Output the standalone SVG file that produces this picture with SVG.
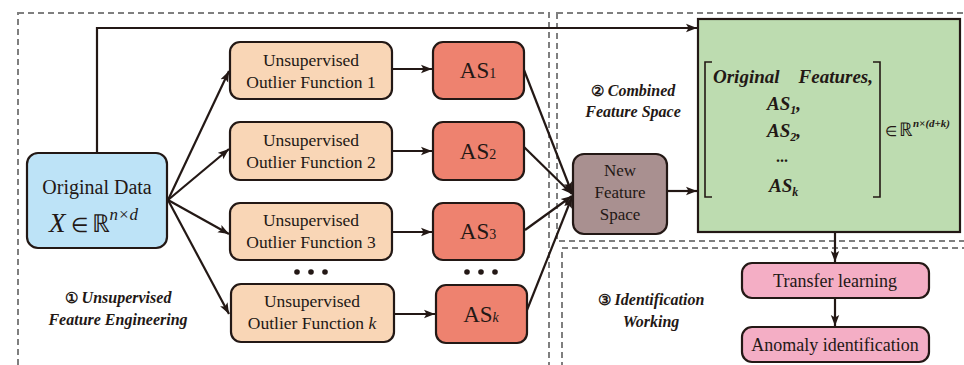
<svg xmlns="http://www.w3.org/2000/svg" width="964" height="365" viewBox="0 0 964 365">
<defs>
<marker id="ah" markerUnits="userSpaceOnUse" markerWidth="12" markerHeight="10" refX="11" refY="5" orient="auto">
<path d="M0,0.8 L11,5 L0,9.2 L2.5,5 z" fill="#231815"/>
</marker>
</defs>

<g id="regions" fill="none" stroke="#7f7f7f" stroke-width="2" stroke-dasharray="6,4">
<rect x="18" y="13" width="531" height="370"/>
<rect x="557" y="13" width="420" height="228"/>
<rect x="562" y="248" width="420" height="130"/>
</g>

<g id="connectors" stroke="#231815" stroke-width="2.2" fill="none" marker-end="url(#ah)">
<polyline points="97,153 97,28 697,28"/>
<line x1="168" y1="200" x2="229" y2="71"/>
<line x1="168" y1="200" x2="229" y2="149"/>
<line x1="168" y1="200" x2="229" y2="234"/>
<line x1="168" y1="200" x2="229" y2="314"/>
<line x1="392" y1="69" x2="432" y2="69"/>
<line x1="392" y1="151" x2="432" y2="151"/>
<line x1="392" y1="232" x2="432" y2="232"/>
<line x1="394" y1="314" x2="435" y2="314"/>
<line x1="524" y1="70" x2="572" y2="193"/>
<line x1="524" y1="147" x2="572" y2="194"/>
<line x1="525" y1="230" x2="572" y2="196"/>
<line x1="527" y1="310" x2="572" y2="197"/>
<line x1="667" y1="191" x2="697" y2="191"/>
<line x1="835" y1="233" x2="835" y2="262"/>
<line x1="835" y1="298" x2="835" y2="326"/>
</g>

<g id="original-data">
<rect x="27" y="153" width="140" height="95" rx="11" fill="#bde3f7" stroke="#231815" stroke-width="2.2"/>
<text style="font-family:'Liberation Serif',serif !important" fill="#231815" x="97" y="194" font-size="20" text-anchor="middle">Original Data</text>
<text style="font-family:'Liberation Serif',serif !important" fill="#231815" x="49" y="232" font-size="27"><tspan font-style="italic">X</tspan><tspan dx="5" font-size="20">∈</tspan><tspan dx="4" font-size="25">ℝ</tspan><tspan font-style="italic" font-size="17" dy="-12">n×d</tspan></text>
</g>

<g id="uof1">
<rect x="230" y="42" width="162" height="57" rx="10" fill="#f9d6b6" stroke="#231815" stroke-width="2.2"/>
<text style="font-family:'Liberation Serif',serif !important" fill="#231815" x="311" y="66" font-size="17.5" text-anchor="middle">Unsupervised</text>
<text style="font-family:'Liberation Serif',serif !important" fill="#231815" x="311" y="88" font-size="17.5" text-anchor="middle">Outlier Function 1</text>
</g>
<g id="uof2">
<rect x="230" y="122" width="162" height="58" rx="10" fill="#f9d6b6" stroke="#231815" stroke-width="2.2"/>
<text style="font-family:'Liberation Serif',serif !important" fill="#231815" x="311" y="146" font-size="17.5" text-anchor="middle">Unsupervised</text>
<text style="font-family:'Liberation Serif',serif !important" fill="#231815" x="311" y="168" font-size="17.5" text-anchor="middle">Outlier Function 2</text>
</g>
<g id="uof3">
<rect x="230" y="203" width="162" height="57" rx="10" fill="#f9d6b6" stroke="#231815" stroke-width="2.2"/>
<text style="font-family:'Liberation Serif',serif !important" fill="#231815" x="311" y="226" font-size="17.5" text-anchor="middle">Unsupervised</text>
<text style="font-family:'Liberation Serif',serif !important" fill="#231815" x="311" y="248" font-size="17.5" text-anchor="middle">Outlier Function 3</text>
</g>
<g id="uofk">
<rect x="231" y="284" width="163" height="58" rx="10" fill="#f9d6b6" stroke="#231815" stroke-width="2.2"/>
<text style="font-family:'Liberation Serif',serif !important" fill="#231815" x="312" y="307" font-size="17.5" text-anchor="middle">Unsupervised</text>
<text style="font-family:'Liberation Serif',serif !important" fill="#231815" x="312" y="329" font-size="17.5" text-anchor="middle">Outlier Function <tspan font-style="italic">k</tspan></text>
</g>

<g id="dots" fill="#231815">
<circle cx="297" cy="272" r="2.8"/>
<circle cx="311" cy="272" r="2.8"/>
<circle cx="325" cy="272" r="2.8"/>
<circle cx="467" cy="272" r="2.8"/>
<circle cx="481" cy="272" r="2.8"/>
<circle cx="495" cy="272" r="2.8"/>
</g>

<g id="as1">
<rect x="433" y="42" width="91" height="57" rx="10" fill="#ee826f" stroke="#231815" stroke-width="2.2"/>
<text style="font-family:'Liberation Serif',serif !important" fill="#231815" x="478" y="78" font-size="23" text-anchor="middle">AS<tspan font-size="14">1</tspan></text>
</g>
<g id="as2">
<rect x="433" y="122" width="91" height="58" rx="10" fill="#ee826f" stroke="#231815" stroke-width="2.2"/>
<text style="font-family:'Liberation Serif',serif !important" fill="#231815" x="478" y="159" font-size="23" text-anchor="middle">AS<tspan font-size="14">2</tspan></text>
</g>
<g id="as3">
<rect x="433" y="203" width="91" height="57" rx="10" fill="#ee826f" stroke="#231815" stroke-width="2.2"/>
<text style="font-family:'Liberation Serif',serif !important" fill="#231815" x="478" y="239" font-size="23" text-anchor="middle">AS<tspan font-size="14">3</tspan></text>
</g>
<g id="ask">
<rect x="436" y="285" width="91" height="58" rx="10" fill="#ee826f" stroke="#231815" stroke-width="2.2"/>
<text style="font-family:'Liberation Serif',serif !important" fill="#231815" x="481" y="322" font-size="23" text-anchor="middle">AS<tspan font-size="14" font-style="italic">k</tspan></text>
</g>

<g id="new-feature-space">
<rect x="573" y="154" width="94" height="80" rx="11" fill="#a99090" stroke="#231815" stroke-width="2.2"/>
<text style="font-family:'Liberation Serif',serif !important" fill="#231815" x="620" y="176" font-size="17" text-anchor="middle">New</text>
<text style="font-family:'Liberation Serif',serif !important" fill="#231815" x="620" y="198" font-size="17" text-anchor="middle">Feature</text>
<text style="font-family:'Liberation Serif',serif !important" fill="#231815" x="620" y="220" font-size="17" text-anchor="middle">Space</text>
</g>

<g id="combined-matrix">
<rect x="698" y="19" width="262" height="213" fill="#bddcb0" stroke="#231815" stroke-width="2.2"/>
<path d="M712,62 L705,62 L705,197 L712,197" fill="none" stroke="#231815" stroke-width="1.6"/>
<path d="M873,62 L880,62 L880,197 L873,197" fill="none" stroke="#231815" stroke-width="1.6"/>
<text style="font-family:'Liberation Serif',serif !important" fill="#231815" x="713" y="83" font-size="19" font-style="italic" font-weight="bold">Original</text>
<text style="font-family:'Liberation Serif',serif !important" fill="#231815" x="873" y="83" font-size="19" font-style="italic" font-weight="bold" text-anchor="end">Features,</text>
<text style="font-family:'Liberation Serif',serif !important" fill="#231815" x="767" y="110" font-size="19" font-style="italic" font-weight="bold">AS<tspan font-size="12" dy="4">1</tspan><tspan dy="-4">,</tspan></text>
<text style="font-family:'Liberation Serif',serif !important" fill="#231815" x="767" y="137" font-size="19" font-style="italic" font-weight="bold">AS<tspan font-size="12" dy="4">2</tspan><tspan dy="-4">,</tspan></text>
<text style="font-family:'Liberation Serif',serif !important" fill="#231815" x="782" y="162" font-size="16" font-weight="bold" text-anchor="middle">...</text>
<text style="font-family:'Liberation Serif',serif !important" fill="#231815" x="769" y="192" font-size="19" font-style="italic" font-weight="bold">AS<tspan font-size="12" dy="4">k</tspan></text>
<text style="font-family:'Liberation Serif',serif !important" fill="#231815" x="885" y="136" font-size="16"><tspan font-size="14">∈</tspan><tspan dx="2" font-size="19">ℝ</tspan><tspan font-style="italic" font-weight="bold" font-size="11" dy="-9">n×(d+k)</tspan></text>
</g>

<g id="transfer-learning">
<rect x="742" y="263" width="187" height="35" rx="10" fill="#f4aec5" stroke="#231815" stroke-width="2.2"/>
<text style="font-family:'Liberation Serif',serif !important" fill="#231815" x="835" y="287" font-size="18" text-anchor="middle">Transfer learning</text>
</g>
<g id="anomaly-identification">
<rect x="742" y="327" width="187" height="35" rx="10" fill="#f4aec5" stroke="#231815" stroke-width="2.2"/>
<text style="font-family:'Liberation Serif',serif !important" fill="#231815" x="835" y="351" font-size="18" text-anchor="middle">Anomaly identification</text>
</g>

<g id="labels">
<text style="font-family:'Liberation Serif',serif !important" fill="#231815" font-weight="bold" font-style="italic" font-size="16" x="118" y="303" text-anchor="middle"><tspan font-style="normal" font-size="15">①</tspan> Unsupervised</text>
<text style="font-family:'Liberation Serif',serif !important" fill="#231815" font-weight="bold" font-style="italic" font-size="16" x="118" y="325" text-anchor="middle">Feature Engineering</text>
<text style="font-family:'Liberation Serif',serif !important" fill="#231815" font-weight="bold" font-style="italic" font-size="16" x="633" y="96" text-anchor="middle"><tspan font-style="normal" font-size="15">②</tspan> Combined</text>
<text style="font-family:'Liberation Serif',serif !important" fill="#231815" font-weight="bold" font-style="italic" font-size="16" x="633" y="117" text-anchor="middle">Feature Space</text>
<text style="font-family:'Liberation Serif',serif !important" fill="#231815" font-weight="bold" font-style="italic" font-size="16" x="651" y="305" text-anchor="middle"><tspan font-style="normal" font-size="15">③</tspan> Identification</text>
<text style="font-family:'Liberation Serif',serif !important" fill="#231815" font-weight="bold" font-style="italic" font-size="16" x="651" y="327" text-anchor="middle">Working</text>
</g>
</svg>
